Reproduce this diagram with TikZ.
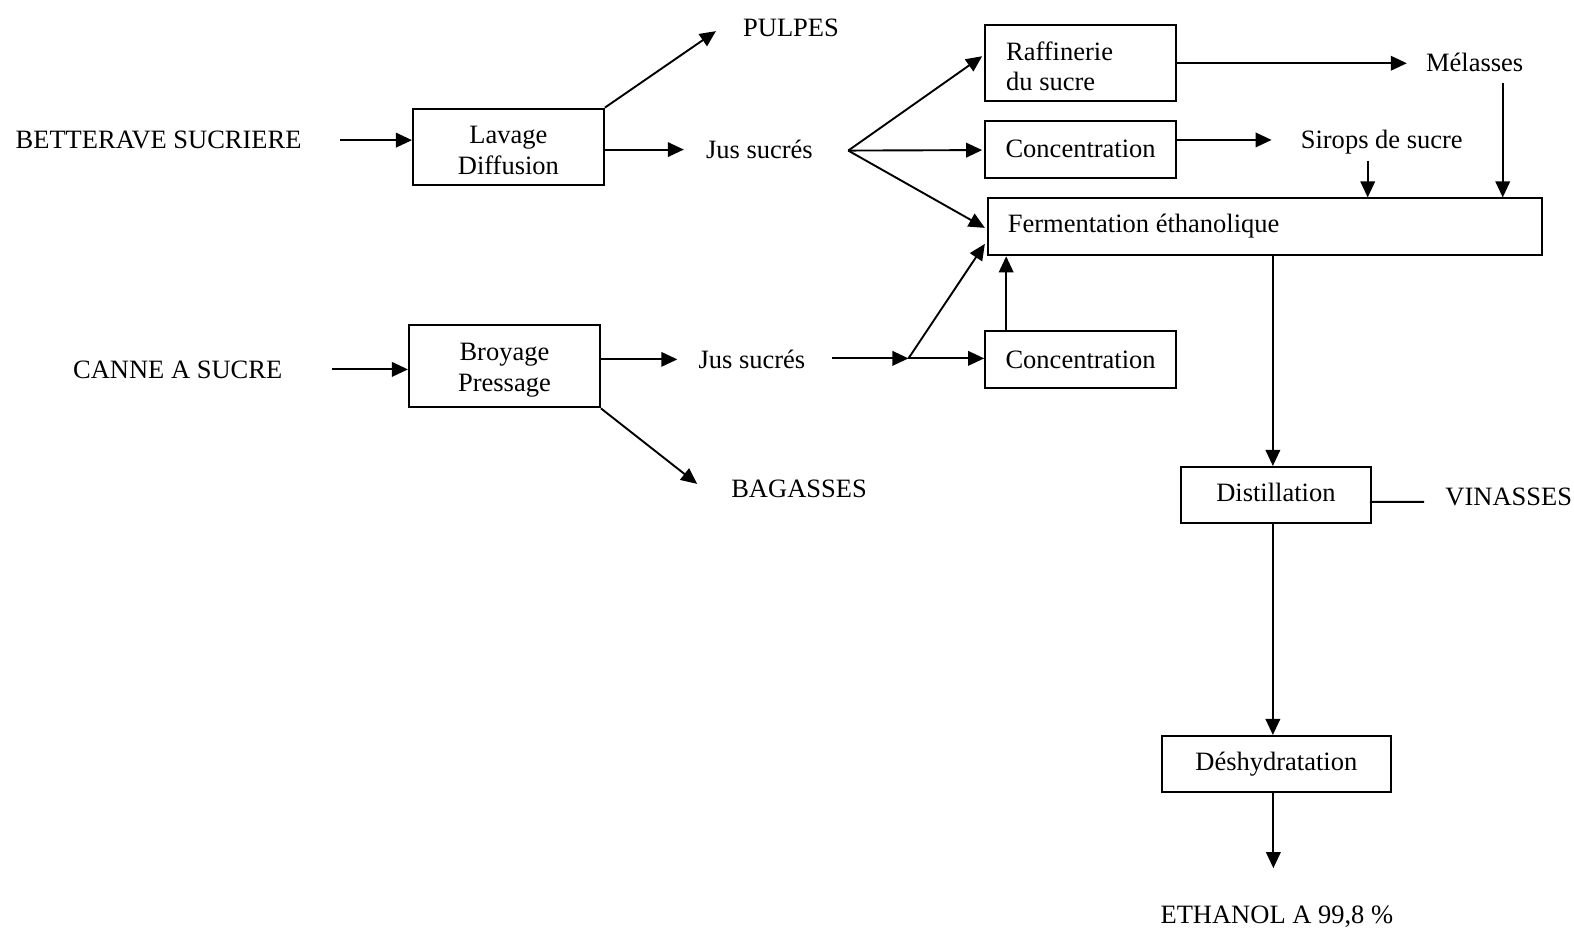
\documentclass[tikz,border=0pt]{standalone}
\usepackage{fontspec}
\setmainfont{Liberation Serif}
\usetikzlibrary{arrows.meta,calc}
\begin{document}
\begin{tikzpicture}[x=1.0038pt,y=-1.0038pt,
  every node/.style={font=\fontsize{26.5pt}{30.6pt}\selectfont},
  lbl/.style={inner sep=0pt,text height=17.5pt,text depth=0pt},
  box/.style={draw,line width=1.9pt,inner sep=0pt,text height=17.5pt,text depth=0pt},
  box2/.style={draw,line width=1.9pt,inner sep=0pt,align=center,text depth=0pt},
  arr/.style={line width=1.9pt,-{Triangle[length=16pt,width=14.5pt]}},
  ln/.style={line width=1.9pt}]
\useasboundingbox (0,0) rectangle (1568,929);

% raw materials
\node[lbl] (bet) at (158,139.6) {BETTERAVE SUCRIERE};
\node[lbl] (can) at (177,368) {CANNE A SUCRE};

% extraction steps
\node[box2,minimum width=191pt,minimum height=76pt,text height=56pt] (lav) at (506.5,146) {Lavage\\Diffusion};
\node[box2,minimum width=191pt,minimum height=82pt,text height=50pt] (bro) at (502.5,365) {Broyage\\Pressage};

% by-products and juices
\node[lbl] (pul) at (788,28) {PULPES};
\node[lbl] (jus1) at (756.5,149) {Jus sucrés};
\node[lbl] (jus2) at (749,358) {Jus sucrés};
\node[lbl] (bag) at (796,487) {BAGASSES};

% junctions
\coordinate (j1) at (845,150);
\coordinate (j2) at (905,357);

% sugar processing
\node[draw,line width=1.9pt,minimum width=191pt,minimum height=76pt,inner xsep=21pt,
      text width=149pt,align=flush left,text height=24.5pt,text depth=30.6pt] (raf) at (1076.5,63) {Raffinerie\\du sucre};
\node[box,minimum width=191pt,minimum height=57pt] (c1) at (1076.5,148.5) {Concentration};
\node[box,minimum width=191pt,minimum height=57pt] (c2) at (1076.5,358.5) {Concentration};
\node[lbl] (mel) at (1469,63) {Mélasses};
\node[lbl] (sir) at (1376.5,139.4) {Sirops de sucre};

% fermentation chain
\node[draw,line width=1.9pt,minimum width=554pt,minimum height=57pt,inner xsep=20pt,
      text width=514pt,align=flush left,text height=17.5pt,text depth=6pt] (ferm) at (1260,226) {Fermentation éthanolique};
\node[box,minimum width=190pt,minimum height=56pt,text depth=4pt] (dist) at (1271,493) {Distillation};
\node[lbl] (vin) at (1503,495) {VINASSES};
\node[box,minimum width=229pt,minimum height=56pt,text depth=4pt] (desh) at (1271.5,761) {Déshydratation};
\node[lbl] (eth) at (1272,911) {ETHANOL A 99,8 \%};

% beet line
\draw[arr] ([xshift=38pt]bet.east) -- (bet.east -| lav.west);
\draw[arr] (lav.north east) -- ([xshift=-27pt,yshift=-3pt]pul.west);
\draw[arr] (lav.east |- jus1.west) -- ([xshift=-22pt]jus1.west);
\draw[arr] (j1) -- ($(raf.west)+(-2,-7)$);
\draw[arr] (j1) -- ($(c1.west)+(-2,1)$);
\draw[arr] (j1) -- ($(ferm.west)+(-2,1)$);

% cane line
\draw[arr] ([xshift=50pt]can.east) -- (can.east -| bro.west);
\draw[arr] (bro.east |- jus2.west) -- ([xshift=-21pt]jus2.west);
\draw[arr] (bro.south east) -- ([xshift=-34pt,yshift=5pt]bag.west);
\draw[arr] ([xshift=27pt]jus2.east |- j2) -- (j2);
\draw[arr] (j2) -- (j2 -| c2.west);
\draw[arr] (j2) -- ($(ferm.west)+(-2,17)$);
\draw[arr] ([xshift=22pt]c2.north west) -- ([xshift=22pt]c2.north west |- ferm.south);

% sugar products into fermentation
\coordinate (sirT) at ($(sir.south)+(-14,12)$);
\coordinate (melT) at ($(mel.south)+(28,11)$);
\draw[arr] (raf.east) -- ([xshift=-19pt]mel.west);
\draw[arr] (c1.east |- sir.west) -- ([xshift=-29pt]sir.west);
\draw[arr] (sirT) -- (sirT |- ferm.north);
\draw[arr] (melT) -- (melT |- ferm.north);

% distillation and dehydration
\draw[arr] ([xshift=-3pt]dist.north |- ferm.south) -- ([xshift=-3pt]dist.north);
\draw[ln] ([xshift=-2pt,yshift=-7pt]dist.east) -- ([xshift=-21pt,yshift=-5pt]vin.west);
\draw[arr] ([xshift=-3pt]dist.south) -- ([xshift=-3pt]dist.south |- desh.north);
\draw[arr] ([xshift=-3pt]desh.south) -- ++(0,75);
\end{tikzpicture}
\end{document}
